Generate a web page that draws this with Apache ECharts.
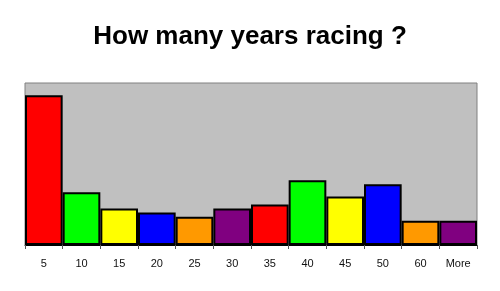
<!DOCTYPE html>
<html>
<head>
<meta charset="utf-8">
<script src="https://cdn.jsdelivr.net/npm/echarts@6/dist/echarts.min.js"></script>
<style>
  html, body { margin: 0; padding: 0; background: #fff; }
  #chart { width: 500px; height: 291px; }
</style>
</head>
<body>
<div id="chart"></div>
<script>
// Years-racing histogram: bin labels and counts per bin
const categories = ['5', '10', '15', '20', '25', '30', '35', '40', '45', '50', '60', 'More'];
const counts = [37, 13, 9, 8, 7, 9, 10, 16, 12, 15, 6, 6];
const barColors = ['#FF0000', '#00FF00', '#FFFF00', '#0000FF', '#FF9900', '#800080'];

const chart = echarts.init(document.getElementById('chart'), null, { renderer: 'canvas' });

chart.setOption({
  animation: false,
  backgroundColor: '#ffffff',
  title: {
    text: 'How many years racing ?',
    left: 'center',
    top: 19,
    textStyle: {
      fontFamily: 'Liberation Sans, Arial, sans-serif',
      fontSize: 26,
      fontWeight: 'bold',
      color: '#000000'
    }
  },
  grid: {
    left: 25,
    right: 23,
    top: 83,
    bottom: 46,
    show: true,
    backgroundColor: '#C0C0C0',
    borderColor: '#808080',
    borderWidth: 1
  },
  xAxis: {
    type: 'category',
    data: categories,
    boundaryGap: true,
    axisLine: { show: true, lineStyle: { color: '#000000', width: 1 } },
    axisTick: { show: true, alignWithLabel: false, length: 4, lineStyle: { color: '#555555' } },
    axisLabel: {
      interval: 0,
      margin: 13,
      fontFamily: 'Liberation Sans, Arial, sans-serif',
      fontSize: 11,
      color: '#111111'
    }
  },
  yAxis: {
    type: 'value',
    min: 0,
    max: 40,
    show: false,
    splitLine: { show: false }
  },
  series: [{
    type: 'bar',
    data: counts.map((v, i) => ({
      value: v,
      itemStyle: { color: barColors[i % barColors.length] }
    })),
    barWidth: '100%',
    barCategoryGap: 0,
    itemStyle: { borderColor: '#000000', borderWidth: 2 }
  }]
});
</script>
</body>
</html>
